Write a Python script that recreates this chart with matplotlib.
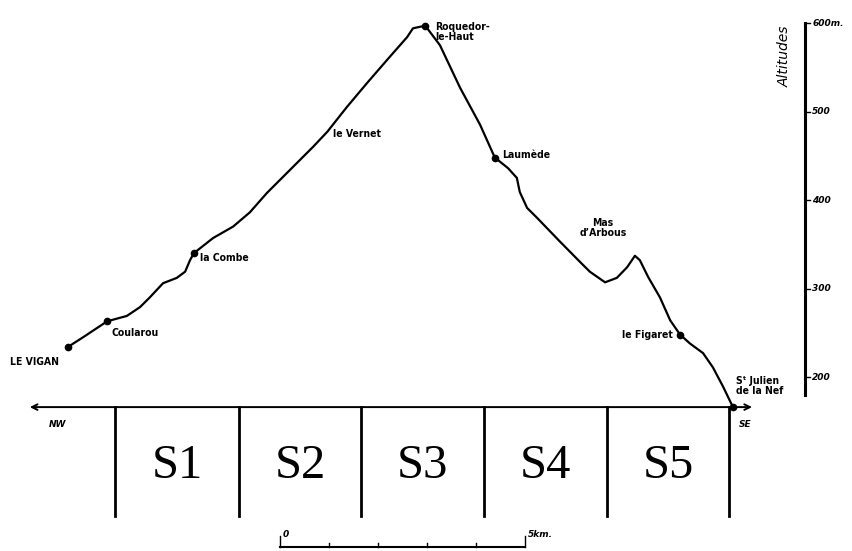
import matplotlib
matplotlib.use('Agg')
from matplotlib import pyplot as plt

# profile: distance from Le Vigan (km), altitude (m)
dist_km = [0.00, 0.31, 0.80, 1.20, 1.47, 1.67, 1.94, 2.22, 2.39, 2.49, 2.57,
           2.96, 3.37, 3.71, 4.06, 4.53, 5.00, 5.29, 5.69, 6.10, 6.57, 6.92, 7.04, 7.29,
           7.59, 8.00, 8.41, 8.71, 8.98, 9.16, 9.22, 9.37, 9.57, 10.04, 10.45, 10.65,
           10.96, 11.20, 11.41, 11.57, 11.67, 11.84, 12.08, 12.29, 12.49, 12.69, 12.96,
           13.16, 13.37, 13.57]
altitude_m = [234, 245, 263, 269, 279, 290, 306, 312, 319, 332, 340,
              357, 370, 386, 408, 434, 460, 477, 505, 532, 562, 584, 594, 597,
              575, 527, 485, 448, 436, 425, 409, 391, 380, 353, 330, 319,
              307, 312, 324, 337, 332, 313, 290, 264, 248, 238, 227,
              211, 189, 166]

# named places
place_names = ['LE VIGAN', 'Coularou', 'la Combe', 'le Vernet', 'Roquedor-\nle-Haut',
               'Laumède', 'Mas\nd\u2019Arbous', 'le Figaret', 'S\u1d57 Julien\nde la Nef']
place_km = [0.00, 0.80, 2.57, 5.29, 7.29, 8.71, 10.92, 12.49, 13.57]
place_alt = [234, 263, 340, 477, 597, 448, 336, 248, 166]
place_dot = [True, True, True, False, True, True, False, True, True]

# sectors
sector_labels = ['S1', 'S2', 'S3', 'S4', 'S5']
sector_bounds_km = [0.96, 3.49, 5.98, 8.49, 11.0, 13.49]

alt_ticks = [200, 300, 400, 500, 600]
alt_tick_labels = ['200', '300', '400', '500', '600m.']

scale_km = [0, 1, 2, 3, 4, 5]

base_alt = 166

fig = plt.figure(figsize=(8.52, 5.51), dpi=100)
ax = fig.add_axes([0, 0, 1, 1])
ax.set_xlim(-1.388, 16.0)
ax.set_ylim(3.4, 626)
ax.axis('off')

label_font = dict(family='DejaVu Sans', fontstretch='condensed', fontweight='bold',
                  fontsize=7.5, color='black')
axis_font = dict(family='DejaVu Sans', fontstyle='italic', fontweight='bold',
                 fontsize=6.5, color='black')

# profile line
ax.plot(dist_km, altitude_m, color='black', lw=1.6, solid_joinstyle='round',
        solid_capstyle='round')
for km, alt, dot in zip(place_km, place_alt, place_dot):
    if dot:
        ax.plot(km, alt, 'o', color='black', ms=4.5)

# place labels
ax.text(-1.18, 217, place_names[0], ha='left', va='center', **label_font)
ax.text(0.88, 250, place_names[1], ha='left', va='center', **label_font)
ax.text(2.69, 335, place_names[2], ha='left', va='center', **label_font)
ax.text(5.41, 475, place_names[3], ha='left', va='center', **label_font)
ax.text(7.49, 590, place_names[4], ha='left', va='center', linespacing=1.0, **label_font)
ax.text(8.86, 451, place_names[5], ha='left', va='center', **label_font)
ax.text(10.92, 368, place_names[6], ha='center', va='center', linespacing=1.0, **label_font)
ax.text(12.35, 247, place_names[7], ha='right', va='center', **label_font)
ax.text(13.63, 190, place_names[8], ha='left', va='center', linespacing=1.05, **label_font)

# baseline with arrows NW / SE
ax.annotate('', xy=(-0.78, base_alt), xytext=(13.96, base_alt),
            arrowprops=dict(arrowstyle='<->', color='black', lw=1.4,
                            mutation_scale=10, shrinkA=0, shrinkB=0))
ax.text(-0.22, 146, 'NW', ha='center', va='center', **axis_font)
ax.text(13.82, 146, 'SE', ha='center', va='center', **axis_font)

# sector boxes
for b in sector_bounds_km:
    ax.plot([b, b], [base_alt, 43], color='black', lw=2)
for i, lab in enumerate(sector_labels):
    cx = (sector_bounds_km[i] + sector_bounds_km[i + 1]) / 2
    ax.text(cx, 100, lab, ha='center', va='center', family='Liberation Serif',
            fontsize=35, color='black')

# altitude axis on the right
axis_x = 15.04
ax.plot([axis_x, axis_x], [180, 600], color='black', lw=2.2)
for t, lab in zip(alt_ticks, alt_tick_labels):
    ax.plot([axis_x, axis_x + 0.1], [t, t], color='black', lw=1)
    ax.text(axis_x + 0.15, t, lab, ha='left', va='center', **axis_font)
ax.text(axis_x - 0.42, 562, 'Altitudes', rotation=90, ha='center', va='center',
        family='DejaVu Sans', fontstyle='italic', fontsize=10, color='black')

# scale bar
scale_x0 = 4.33
scale_y = 8
ax.plot([scale_x0 + scale_km[0], scale_x0 + scale_km[-1]], [scale_y, scale_y],
        color='black', lw=1.5)
for k in scale_km:
    top = scale_y + 12 if k in (scale_km[0], scale_km[-1]) else scale_y + 4
    ax.plot([scale_x0 + k, scale_x0 + k], [scale_y, top], color='black', lw=1)
ax.text(scale_x0 + 0.05, 22, '0', ha='left', va='center', **axis_font)
ax.text(scale_x0 + scale_km[-1] + 0.05, 22, '5km.', ha='left', va='center', **axis_font)

fig.savefig('out.png', dpi=100)
